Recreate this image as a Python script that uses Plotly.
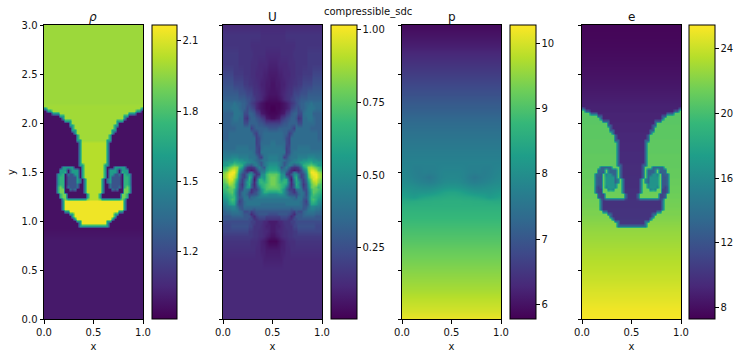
import numpy as np
import plotly.graph_objects as go

# ---- grid rows (half domain, mirrored about x=0.5) ----
mask_upper_y = [3.0, 2.9, 2.8, 2.7, 2.6, 2.5, 2.4, 2.3, 2.2]
mask_mid_y = [round(2.175 - 0.025 * k, 3) for k in range(51)]
mask_lower_y = [0.8, 0.7, 0.6, 0.5, 0.4, 0.3, 0.2, 0.1, 0.0]
mask_y = mask_upper_y + mask_mid_y + mask_lower_y

mask_rows = ["hhhhhhhhhhhhhhhhhhhh"] * 9 + [
    "gggggggggggggggggggg", "tggggggggggggggggggg", ".ttggggggggggggggggg",
    "...tttgggggggggggggg", "......ttgggggggggggg", ".......tgggggggggggg",
    "........tttggggggggg", "..........tggggggggg", "..........ttgggggggg",
    "...........tgggggggg", "...........ttggggggg", "............tggggggg",
    ".............tgggggg", ".............tgggggg", ".............ttggggg",
    "..............tnnnnn", "..............tnnnnn", "..............tnnnnn",
    "..............tnnnnn", "..............tnnnnn", "..............tnnnnn",
    "..............tnnnnn", "..............tnnnnn", "..............tnnnnn",
    "..............ttnnnn", ".......ttttt...tnnnn", "......ttt.sttt.tnnnn",
    "......ttu.sttt.tnnnn", ".....ttu.sbbtt.tnnnn", ".....tuu.bbbbt.tnnnn",
    ".....tuu.bbbbts.tnnn", ".....tuu.bbbbts.tnnn", ".....tuu.bbbbs..tnnn",
    ".....uGu.sbbbs..tnnn", ".....uGG..sbs...tnnn", ".....uGG........tnnn",
    "......uGG........tnn", "......uGG........tnn", ".......uGttttttttGnn",
    ".......tyyyyyyyyyyyy", ".......tyyyyyyyyyyyy", ".......tyyyyyyyyyyyy",
    ".......tyyyyyyyyyyyy", "........ttyyyyyyyyyy", "..........ttyyyyyyyy",
    "...........tyyyyyyyy", "............tyyyyyyy", ".............ttyyyyy",
    "..............tyyyyy", "..............tttttt", "....................",
] + [",,,,,,,,,,,,,,,,,,,,"] * 9

rho_levels = {".": 0.97, ",": 1.0, "b": 1.24, "s": 1.38, "t": 1.6, "u": 1.72, "G": 1.9,
              "g": 1.99, "h": 1.98, "n": 2.03, "y": 2.14}
e_mix = {".": 0.0, ",": 0.0, "b": 0.4, "s": 0.5, "t": 0.7, "u": 0.78, "G": 0.9,
         "g": 1.0, "h": 1.0, "n": 1.0, "y": 1.0}

e_light_fluid = [19.5] * 9 + [
    20.7, 20.7, 20.7, 20.7, 20.7, 20.7, 20.7, 20.7, 20.8, 20.8,
    20.8, 20.8, 20.8, 20.8, 20.9, 20.9, 20.9, 20.9, 20.9, 20.9,
    21.0, 21.0, 21.0, 21.0, 21.0, 21.0, 21.1, 21.1, 21.1, 21.1,
    21.2, 21.2, 21.2, 21.3, 21.3, 21.3, 21.4, 21.4, 21.5, 21.5,
    21.6, 21.6, 21.7, 21.8, 21.8, 21.9, 22.0, 22.1, 22.2, 22.3, 22.4,
] + [22.8, 23.1, 23.4, 23.7, 24.0, 24.4, 24.7, 25.1, 25.3]
e_heavy_fluid = [7.55, 7.6, 7.7, 7.85, 8.0, 8.2, 8.4, 8.65, 8.9] + [
    9.0, 9.0, 9.0, 9.1, 9.1, 9.1, 9.1, 9.2, 9.2, 9.2,
    9.2, 9.3, 9.3, 9.3, 9.3, 9.4, 9.4, 9.4, 9.4, 9.5,
    9.5, 9.5, 9.5, 9.5, 9.6, 9.6, 9.6, 9.6, 9.6, 9.7,
    9.7, 9.7, 9.7, 9.7, 9.8, 9.8, 9.8, 9.8, 9.9, 9.9,
    9.9, 9.9, 10.0, 10.0, 10.0, 10.0, 10.1, 10.1, 10.1, 10.2, 10.2,
] + [10.2] * 9

# ---- speed, letters a..z = 0.00..1.00, capitals are the half steps ----
u_y = [3.0, 2.9, 2.8, 2.7, 2.6, 2.5, 2.4, 2.3, 2.25, 2.2, 2.15, 2.1, 2.05, 2.0, 1.95, 1.9, 1.85, 1.8,
       1.75, 1.7, 1.65, 1.625, 1.6, 1.575, 1.55, 1.525, 1.5, 1.475, 1.45, 1.425, 1.4, 1.375, 1.35,
       1.325, 1.3, 1.275, 1.25, 1.225, 1.2, 1.175, 1.15, 1.125, 1.1, 1.075, 1.05, 1.025, 1.0, 0.95,
       0.9, 0.85, 0.8, 0.7, 0.6, 0.5, 0.0]
u_rows = [
    "dddddddddddddddddddd", "eeeeeeeeeeeeeeeDDDDD", "eeeeeeeeeeeDDDDDDDDD", "EEEEEEeeeeeeDDDDDddd",
    "EEEEEEeeeeeDDDddddCC", "FFFFEEEEeeeDDdddCCcc", "GGGGFFFFEEeeDDdCCccB", "HHHHHHGGGFFFeeDdCcBB",
    "iiiiiiHHHGGFfeDdcBbb", "jjjjkjjiihgfedcBbAAA", "jjjkkkjiighgfdcBbAAa", "iiiikkkjggiihfecBbAA",
    "iiijkkjjfehiihgfecBb", "iiijjjjjggiiiihhgfff", "iiiiijjjjjjfhiiiiihh", "iijjjjjjjjjjgfiijjjj",
    "iijjjjjjjjjjjfgijjjj", "jjjjjjjjjjjjjfgjjjjk", "jjjjjkkkkkjjjgfjkkkk", "kkkkkkkkkkkkjgfkkkkk",
    "lllmmmllllkkkjgfkkll", "mmnnoonnmmllkjijkkll", "noooqppoommllkihklmm", "ooqstsrqmjihkljhklnn",
    "qstvwvrojfeefiljhmoo", "stwyyvokgddcdfjkknpp", "uwyzzunigfikeehllprr", "vxzzytlgfjnmhefmnrtt",
    "vxzyxskgfjqndfkonrtu", "uwyyvqjfhlqlcgqqortu", "tvxwuoifiopkdiqrqrtu", "stwvtnheinqidhpqrstu",
    "srtutmhfjooieglprstt", "rsttrlggkkjeffjnqsss", "qrstqkgjkjgeghkmqqpp", "pqrsqkgjkigghhkmnnmm",
    "opqrrkhikkhjjkllllll", "noqsrkghkkjjkkkkkkkk", "mnprqjfhjkkkkkkkkkkk", "lmoppighjkkkkkkjjjjj",
    "kllmmjhhjjjjjjjjjjjj", "jkkllkihiiiihiiiiiii", "ijjkkkjigghfghhhhhhh", "iiijjjjihhgdfghhhhgg",
    "hhhiiiiihhhfdfgggfff", "hhhhhhhhhhggeefffeee", "gggggggggggffeeeddcc", "FFFGGGGGGGFFeeeDdCCc",
    "FFFFFFFFFFEEeeDDddCc", "EEEEEEEEEEEEeeDDdCcB", "eeeeeeeeeeeDDDdCcBAA", "DDDDDDDDDDDDDddCCccc",
    "ddddddddddddddddCCCC", "dddddddddddddddddddd", "dddddddddddddddddddd",
]

# ---- pressure, half domain ----
p_x = [0.025, 0.075, 0.125, 0.175, 0.225, 0.275, 0.325, 0.375, 0.425, 0.475]
p_y = [3.0, 2.9, 2.8, 2.7, 2.6, 2.5, 2.4, 2.3, 2.2, 2.1, 2.0, 1.9, 1.8, 1.7, 1.6, 1.55, 1.5, 1.45, 1.4,
       1.35, 1.3, 1.25, 1.2, 1.15, 1.1, 1.0, 0.9, 0.8, 0.7, 0.6, 0.5, 0.4, 0.3, 0.2, 0.1, 0.0]
p_rows = [
    [5.9] * 10, [6.02] * 10, [6.15] * 10, [6.3] * 10, [6.45] * 10, [6.6] * 10, [6.75] * 10, [6.9] * 10,
    [7.05] * 10, [7.2] * 10, [7.35] * 10, [7.48] * 10, [7.58] * 10, [7.68] * 10,
    [7.76, 7.76, 7.76, 7.76, 7.76, 7.76, 7.76, 7.76, 7.76, 7.76],
    [7.8, 7.78, 7.72, 7.72, 7.74, 7.74, 7.74, 7.78, 7.8, 7.8],
    [7.84, 7.8, 7.74, 7.7, 7.74, 7.72, 7.74, 7.8, 7.84, 7.84],
    [7.88, 7.84, 7.76, 7.72, 7.66, 7.58, 7.68, 7.8, 7.86, 7.88],
    [7.95, 7.92, 7.86, 7.8, 7.76, 7.72, 7.78, 7.86, 7.94, 7.96],
    [8.06, 8.04, 8.0, 7.96, 7.94, 7.94, 7.98, 8.04, 8.1, 8.14],
    [8.2, 8.15, 8.1, 8.12, 8.12, 8.14, 8.2, 8.28, 8.36, 8.4],
    [8.34, 8.28, 8.22, 8.32, 8.38, 8.42, 8.46, 8.48, 8.5, 8.52],
    [8.5, 8.5, 8.52, 8.54, 8.56, 8.56, 8.58, 8.58, 8.6, 8.6],
    [8.62] * 10, [8.7] * 10, [8.82] * 10, [8.95] * 10, [9.07] * 10, [9.2] * 10, [9.32] * 10, [9.44] * 10,
    [9.56] * 10, [9.68] * 10, [9.82] * 10, [9.96] * 10, [10.15] * 10,
]

# ---- colour ranges, ticks ----
rho_range = [0.913, 2.168]
u_range = [0.005, 1.017]
p_range = [5.78, 10.28]
e_range = [7.3, 25.46]
rho_ticks = [1.2, 1.5, 1.8, 2.1]
u_ticks = [0.25, 0.5, 0.75, 1.0]
u_ticklabels = ["0.25", "0.50", "0.75", "1.00"]
p_ticks = [6, 7, 8, 9, 10]
e_ticks = [8, 12, 16, 20, 24]

half_x = [0.0125 + 0.025 * i for i in range(20)]
full_x = [-0.0125] + half_x + [1 - v for v in half_x[::-1]] + [1.0125]
full_px = [-0.025] + p_x + [1 - v for v in p_x[::-1]] + [1.025]


def mirror(rows):
    return [[r[0]] + list(r) + list(r)[::-1] + [r[0]] for r in rows]


def speed(c):
    return (ord(c) - 97) * 0.04 if c.islower() else (ord(c) - 65) * 0.04 + 0.02


rho_half = [[rho_levels[c] for c in r] for r in mask_rows]
e_half = [[h + e_mix[c] * (l - h) for c in r]
          for r, h, l in zip(mask_rows, e_light_fluid, e_heavy_fluid)]
u_half = [[speed(c) for c in r] for r in u_rows]

W, H = 740, 357
TOP, BOT = 25.0, 319.0
panels = [
    dict(x0=44, x1=143, cb0=152, cb1=177),
    dict(x0=223, x1=322, cb0=331, cb1=357),
    dict(x0=402, x1=501, cb0=510, cb1=536),
    dict(x0=582, x1=681, cb0=689, cb1=715),
]
FONT = "DejaVu Sans"
tick_font = dict(family=FONT, size=10, color="#111111")

fig = go.Figure()
traces = [
    (full_x, mask_y, mirror(rho_half), rho_range, rho_ticks, ["1.2", "1.5", "1.8", "2.1"]),
    (full_x, u_y, mirror(u_half), u_range, u_ticks, u_ticklabels),
    (full_px, p_y, mirror(p_rows), p_range, p_ticks, [str(t) for t in p_ticks]),
    (full_x, mask_y, mirror(e_half), e_range, e_ticks, [str(t) for t in e_ticks]),
]
for i, (tx, ty, tz, rng, ticks, labels) in enumerate(traces):
    pn = panels[i]
    n = "" if i == 0 else str(i + 1)
    fig.add_trace(go.Heatmap(
        x=tx, y=list(ty)[::-1], z=np.array(tz)[::-1], zmin=rng[0], zmax=rng[1], colorscale="Viridis",
        zsmooth="best", xaxis="x" + n, yaxis="y" + n, hoverinfo="skip",
        colorbar=dict(
            x=pn["cb0"] / W, xanchor="left", xpad=0, ypad=0,
            y=1 - (TOP + BOT) / 2 / H, yanchor="middle", lenmode="fraction", len=(BOT - TOP) / H,
            thicknessmode="pixels", thickness=pn["cb1"] - pn["cb0"],
            outlinecolor="black", outlinewidth=1,
            tickmode="array", tickvals=ticks, ticktext=labels, ticks="outside", ticklen=3.5,
            tickwidth=1, tickcolor="black", tickfont=tick_font,
        ),
    ))
    fig.layout["xaxis" + n] = dict(
        domain=[pn["x0"] / W, pn["x1"] / W], range=[0, 1], anchor="y" + n, automargin=False,
        tickmode="array", tickvals=[0, 0.5, 1], ticktext=["0.0", "0.5", "1.0"],
        ticks="outside", ticklen=3.5, tickwidth=1, tickcolor="black", tickfont=tick_font,
        showgrid=False, zeroline=False, showline=True, linecolor="black", linewidth=1, mirror=True,
        title=dict(text="x", font=dict(family=FONT, size=10, color="#111111"), standoff=6),
    )
    yax = dict(
        domain=[1 - BOT / H, 1 - TOP / H], range=[0, 3], anchor="x" + n, automargin=False,
        tickmode="array", tickvals=[0, 0.5, 1, 1.5, 2, 2.5, 3],
        ticktext=["0.0", "0.5", "1.0", "1.5", "2.0", "2.5", "3.0"],
        ticks="outside", ticklen=3.5, tickwidth=1, tickcolor="black", tickfont=tick_font,
        showticklabels=i == 0,
        showgrid=False, zeroline=False, showline=True, linecolor="black", linewidth=1, mirror=True,
    )
    if i == 0:
        yax["title"] = dict(text="y", font=dict(family=FONT, size=10, color="#111111"), standoff=4)
    fig.layout["yaxis" + n] = yax

titles = ["<i>ρ</i>", "U", "p", "e"]
annos = []
for pn, t in zip(panels, titles):
    annos.append(dict(text=t, xref="paper", yref="paper", x=(pn["x0"] + pn["x1"]) / 2 / W, y=1 - 16.5 / H,
                      xanchor="center", yanchor="middle", showarrow=False,
                      font=dict(family=FONT, size=12, color="#111111")))
annos.append(dict(text="compressible_sdc", xref="paper", yref="paper", x=368 / W, y=1 - 12.5 / H,
                  xanchor="center", yanchor="middle", showarrow=False,
                  font=dict(family=FONT, size=10, color="#111111")))

fig.update_layout(width=W, height=H, margin=dict(l=0, r=0, t=0, b=0), autosize=False,
                  paper_bgcolor="white", plot_bgcolor="white", showlegend=False, annotations=annos)
fig.write_html("out.html", config={"displayModeBar": False},
               post_script="document.body.style.margin='0';document.documentElement.style.overflow='hidden';")
